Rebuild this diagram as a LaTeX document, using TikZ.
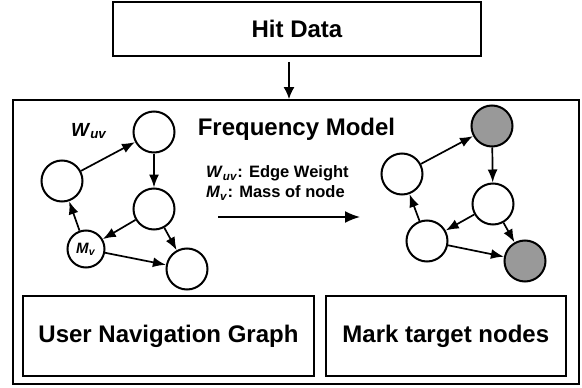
\documentclass[tikz,border=0pt]{standalone}
\usepackage{fontspec}
\setmainfont{Liberation Sans}
\usetikzlibrary{arrows.meta,positioning}

\begin{document}
\begin{tikzpicture}[x=1pt,y=-1pt,
box/.style={draw, rectangle, line width=1.8pt, inner sep=0pt, font=\fontsize{24}{28}\selectfont\bfseries},
vtx/.style={draw, circle, line width=2pt, minimum size=41pt, inner sep=0pt},
target/.style={vtx, fill=black!40},
edge/.style={-{Latex[length=13pt,width=10pt]}, line width=1.7pt}
]
    \useasboundingbox (0,0) rectangle (582,388);

    \node [box, minimum width=368pt, minimum height=54pt] (hit) at (297,29) {Hit Data};

    \node [box, minimum width=566pt, minimum height=284pt] (freq) at (296,242) {};

    \node [font=\fontsize{24}{28}\selectfont\bfseries] (title) at (296.5,129) {Frequency Model};

    \node [box, minimum width=291pt, minimum height=80pt] (nav) at (168.5,336) {User Navigation Graph};

    \node [box, minimum width=240pt, minimum height=80pt, right=10pt of nav] (mark) {Mark target nodes};

    \node [vtx] (u1) at (62,181) {};
    \node [vtx] (u2) at (154,132) {};
    \node [vtx] (u3) at (154,209) {};
    \node [vtx, minimum size=37pt, font=\fontsize{15}{18}\selectfont\bfseries] (u4) at (86,249) {\textit{M}\textsubscript{\textit{v}}};
    \node [vtx] (u5) at (187,269) {};

    \node [font=\fontsize{19}{22}\selectfont\bfseries] (wuv) at (89,131) {\textit{W}\textsubscript{\textit{uv}}};

    \node [vtx] (t1) at (402,174) {};
    \node [target] (t2) at (492,126) {};
    \node [vtx] (t3) at (493,204) {};
    \node [vtx] (t4) at (427,241) {};
    \node [target] (t5) at (525,261) {};

    \node [anchor=north west, inner sep=0pt, align=left, font=\fontsize{16.5}{20}\selectfont\bfseries] (legend) at (206,165.5) {
    \textit{W}\textsubscript{\textit{uv}}: Edge Weight\\
    \textit{M}\textsubscript{\textit{v}}: Mass of node};

    \coordinate (ls) at (218,217);
    \coordinate (le) at (360,217);

  \draw[edge, -{Latex[length=12pt,width=11pt]}, shorten <=5pt] ([xshift=-8pt]hit.south) -- ([xshift=-8pt]hit.south |- freq.north);
  \draw[edge, -{Latex[length=15pt,width=12pt]}] (ls) -- (le);

  \draw[edge] (u1) -- (u2);
  \draw[edge] (u2) -- (u3);
  \draw[edge] (u3) -- (u4);
  \draw[edge] (u3) -- (u5);
  \draw[edge] (u4) -- (u1);
  \draw[edge] (u4) -- (u5);

  \draw[edge] (t1) -- (t2);
  \draw[edge] (t2) -- (t3);
  \draw[edge] (t3) -- (t4);
  \draw[edge] (t3) -- (t5);
  \draw[edge] (t4) -- (t1);
  \draw[edge] (t4) -- (t5);
\end{tikzpicture}
\end{document}
